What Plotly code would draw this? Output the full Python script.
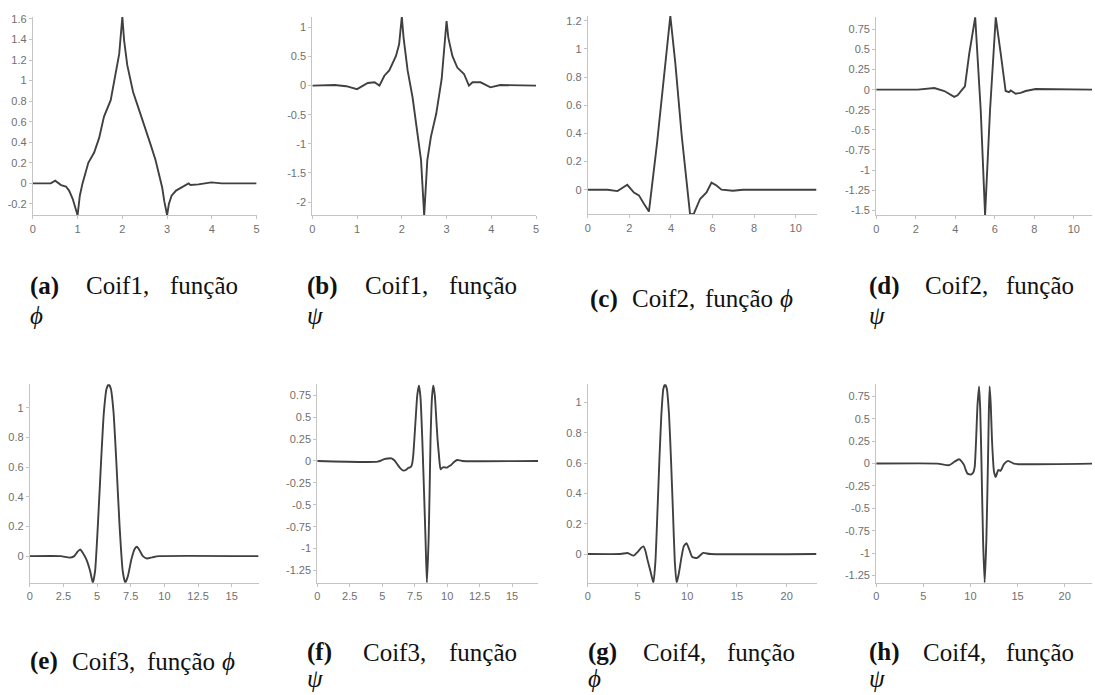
import plotly.graph_objects as go

W, H = 1095, 695

# ---------------- data ----------------
# (a) Coif1 phi
a_x = [0, 0.22, 0.4, 0.5, 0.63, 0.74, 0.81, 0.89, 0.95, 1.0, 1.05, 1.11, 1.24, 1.37, 1.48, 1.59, 1.74, 1.85, 1.93, 2.0,
       2.04, 2.11, 2.24, 2.37, 2.52, 2.63, 2.74, 2.81, 2.89, 2.94, 3.0, 3.04, 3.1, 3.2, 3.33, 3.48, 3.52, 3.7, 3.99, 4.22, 5.0]
a_y = [0, 0, 0.0, 0.026, -0.016, -0.03, -0.07, -0.15, -0.23, -0.31, -0.12, 0.0, 0.2, 0.3, 0.44, 0.65, 0.81, 1.05, 1.26, 1.62,
       1.39, 1.15, 0.89, 0.72, 0.51, 0.38, 0.23, 0.11, -0.04, -0.18, -0.31, -0.2, -0.12, -0.07, -0.04, 0.0, -0.016, -0.01, 0.01, 0, 0]
# (b) Coif1 psi
b_x = [0, 0.5, 0.76, 1.0, 1.24, 1.39, 1.5, 1.61, 1.72, 1.87, 1.94, 2.0, 2.04, 2.13, 2.24, 2.35, 2.43, 2.5, 2.57, 2.65,
       2.77, 2.89, 3.0, 3.04, 3.13, 3.24, 3.39, 3.5, 3.58, 3.76, 3.98, 4.2, 5.0]
b_y = [0, 0.01, -0.01, -0.06, 0.045, 0.057, 0.0, 0.17, 0.26, 0.51, 0.71, 1.18, 0.82, 0.26, -0.2, -0.88, -1.28, -2.23, -1.28, -0.88,
       -0.48, 0.11, 1.11, 0.82, 0.51, 0.31, 0.2, 0.0, 0.057, 0.057, -0.03, 0.01, 0]
# (c) Coif2 phi
c_x = [0, 0.95, 1.43, 1.9, 2.22, 2.46, 2.7, 2.94, 3.33, 3.73, 3.97, 4.21, 4.52, 4.92, 5.1, 5.4, 5.71, 5.95, 6.19, 6.43, 6.98, 7.46, 11]
c_y = [0, 0, -0.01, 0.035, -0.02, -0.04, -0.1, -0.155, 0.33, 0.92, 1.235, 0.9, 0.38, -0.176, -0.17, -0.066, -0.02, 0.05, 0.03, 0, -0.007, 0, 0]
# (d) Coif2 psi
d_x = [0, 2.1, 2.94, 3.45, 3.95, 4.12, 4.32, 4.49, 4.71, 5.01, 5.29, 5.51, 5.76, 6.05, 6.3, 6.55, 6.72, 6.81, 7.06, 7.31, 7.56, 8.07, 11]
d_y = [0, 0, 0.02, -0.017, -0.09, -0.07, -0.01, 0.04, 0.45, 0.9, -0.26, -1.56, -0.26, 0.9, 0.45, -0.017, -0.03, -0.01, -0.05, -0.04, -0.017, 0.008, 0]
# (e) Coif3 phi
e_x = [0, 2.3, 2.95, 3.3, 3.55, 3.74, 3.95, 4.19, 4.48, 4.68, 4.85, 5.05, 5.3, 5.5, 5.7, 5.86, 6.02, 6.22, 6.42, 6.67,
       6.9, 7.09, 7.3, 7.55, 7.8, 7.96, 8.15, 8.4, 8.7, 9.1, 9.6, 17]
e_y = [0, 0, -0.01, 0.0, 0.03, 0.045, 0.02, -0.02, -0.1, -0.18, -0.1, 0.2, 0.65, 0.97, 1.13, 1.16, 1.13, 0.97, 0.65, 0.2,
       -0.1, -0.18, -0.13, -0.02, 0.05, 0.063, 0.04, 0.0, -0.016, -0.008, 0, 0]
# (f) Coif3 psi
f_x = [0, 4.64, 5.15, 5.45, 5.71, 5.95, 6.17, 6.4, 6.63, 6.85, 6.99, 7.12, 7.24, 7.32, 7.4, 7.58, 7.7, 7.83, 7.95, 8.09,
       8.22, 8.34, 8.44, 8.57, 8.65, 8.72, 8.83, 8.93, 9.05, 9.16, 9.26, 9.36, 9.49, 9.6, 9.74, 9.87, 10.0, 10.15, 10.31, 10.55,
       10.77, 11.15, 17]
f_y = [0, -0.008, 0.02, 0.028, 0.03, 0.005, -0.04, -0.085, -0.11, -0.1, -0.08, -0.075, -0.06, -0.02, 0.08, 0.49, 0.75, 0.86, 0.72, 0.23,
       -0.35, -0.91, -1.39, -0.91, -0.35, 0.23, 0.72, 0.86, 0.75, 0.49, 0.25, 0.08, -0.095, -0.08, -0.07, -0.075, -0.076, -0.06, -0.045, -0.01,
       0.011, 0, 0]
# (g) Coif4 phi
g_x = [0, 3.3, 4.0, 4.6, 5.07, 5.35, 5.6, 5.8, 6.0, 6.33, 6.6, 6.8, 7.0, 7.2, 7.4, 7.6, 7.77, 7.95, 8.17, 8.37,
       8.57, 8.75, 8.93, 9.15, 9.4, 9.65, 9.93, 10.2, 10.5, 11.0, 11.6, 12.3, 23]
g_y = [0, 0, 0.007, -0.011, 0.017, 0.04, 0.05, 0.02, -0.037, -0.12, -0.19, -0.05, 0.27, 0.62, 0.92, 1.09, 1.12, 1.09, 0.92, 0.62,
       0.27, -0.05, -0.19, -0.13, -0.03, 0.05, 0.072, 0.03, -0.02, -0.026, 0.007, 0, 0]
# (h) Coif4 psi
h_x = [0, 6.5, 7.75, 8.3, 8.8, 9.1, 9.33, 9.5, 9.68, 9.9, 10.1, 10.3, 10.45, 10.6, 10.75, 10.92, 11.04, 11.16, 11.34, 11.51,
       11.69, 11.87, 11.96, 12.04, 12.16, 12.29, 12.5, 12.68, 12.96, 13.2, 13.56, 14.0, 14.6, 15.1, 23]
h_y = [0, 0, -0.018, 0.02, 0.048, 0.02, -0.018, -0.07, -0.11, -0.12, -0.12, -0.1, -0.04, 0.26, 0.65, 0.86, 0.6, 0.07, -0.85, -1.33,
       -0.85, 0.07, 0.6, 0.86, 0.65, 0.26, -0.09, -0.15, -0.07, -0.08, -0.007, 0.03, 0, -0.007, 0]

# tick values
xt_5 = [0, 1, 2, 3, 4, 5]
xt_11 = [0, 2, 4, 6, 8, 10]
xt_17 = [0, 2.5, 5, 7.5, 10, 12.5, 15]
xt_23 = [0, 5, 10, 15, 20]
yt_a = [-0.2, 0, 0.2, 0.4, 0.6, 0.8, 1, 1.2, 1.4, 1.6]
yt_b = [-2, -1.5, -1, -0.5, 0, 0.5, 1]
yt_c = [0, 0.2, 0.4, 0.6, 0.8, 1, 1.2]
yt_d = [-1.5, -1.25, -1, -0.75, -0.5, -0.25, 0, 0.25, 0.5, 0.75]
yt_e = [0, 0.2, 0.4, 0.6, 0.8, 1]
yt_f = [-1.25, -1, -0.75, -0.5, -0.25, 0, 0.25, 0.5, 0.75]
yt_g = [0, 0.2, 0.4, 0.6, 0.8, 1]
yt_h = [-1.25, -1, -0.75, -0.5, -0.25, 0, 0.25, 0.5, 0.75]

# captions: (panel letter, wavelet, function symbol)
cap_letters = ["a", "b", "c", "d", "e", "f", "g", "h"]
cap_names = ["Coif1,", "Coif1,", "Coif2,", "Coif2,", "Coif3,", "Coif3,", "Coif4,", "Coif4,"]
cap_syms = ["ϕ", "ψ", "ϕ", "ψ", "ϕ", "ψ", "ϕ", "ψ"]
cap_word = "função"

# ---------------- layout geometry (pixels) ----------------
panels = [
    # data x, data y, xrange, yrange, xticks, yticks, box (x0, x1, ytop, ybottom), spline
    (a_x, a_y, [0, 5], [-0.312, 1.62], xt_5, yt_a, (30, 255, 13, 213), False),
    (b_x, b_y, [0, 5], [-2.23, 1.18], xt_5, yt_b, (311, 536, 13, 213), False),
    (c_x, c_y, [0, 11], [-0.176, 1.235], xt_11, yt_c, (588, 818, 12, 212), False),
    (d_x, d_y, [0, 10.92], [-1.565, 0.905], xt_11, yt_d, (878, 1095, 13, 213), False),
    (e_x, e_y, [0, 17], [-0.18, 1.16], xt_17, yt_e, (27, 257, 383, 583), True),
    (f_x, f_y, [0, 17], [-1.39, 0.875], xt_17, yt_f, (316, 538, 383, 583), True),
    (g_x, g_y, [0, 23], [-0.19, 1.12], xt_23, yt_g, (588, 818, 383, 583), True),
    (h_x, h_y, [0, 22.9], [-1.33, 0.885], xt_23, yt_h, (878, 1095, 383, 583), True),
]

# caption word positions (left x of each word), line centers
cap_layout = [
    # (x_label, x_name, x_word, x_sym, y_line1, y_sym)
    (26, 82, 167, 26, 284, 314),
    (305, 363, 447, 305, 284, 314),
    (589, 631, 705, 780, 297, 297),
    (870, 926, 1008, 870, 284, 314),
    (26, 68, 144, 219, 662, 662),
    (305, 361, 447, 305, 653, 679),
    (587, 643, 727, 587, 653, 679),
    (870, 924, 1008, 870, 653, 679),
]


def fmt(v):
    return f"{v:g}"


fig = go.Figure()
tick_font = dict(family="Liberation Sans, Arial, sans-serif", size=11, color="#6f6f6f")
layout_axes = {}
for i, (xs, ys, xr, yr, xt, yt, box, spl) in enumerate(panels):
    n = "" if i == 0 else str(i + 1)
    x0, x1, yt0, yb0 = box
    line = dict(color="#404040", width=1.9)
    if spl:
        line.update(shape="spline", smoothing=0.5)
    fig.add_trace(go.Scatter(x=xs, y=ys, mode="lines", line=line, showlegend=False,
                             xaxis="x" + n, yaxis="y" + n, hoverinfo="skip"))
    common = dict(showline=True, linecolor="#c4c4c4", linewidth=1, ticks="outside", ticklen=3,
                  tickcolor="#c4c4c4", tickwidth=1, tickfont=tick_font, showgrid=False,
                  zeroline=False, fixedrange=True)
    layout_axes["xaxis" + n] = dict(common, domain=[x0 / W, x1 / W], range=xr, anchor="y" + n,
                                     tickmode="array", tickvals=xt, ticktext=[fmt(v) for v in xt])
    layout_axes["yaxis" + n] = dict(common, domain=[1 - yb0 / H, 1 - yt0 / H], range=yr, anchor="x" + n,
                                     tickmode="array", tickvals=yt, ticktext=[fmt(v) for v in yt])

annotations = []
cap_font = dict(family="Liberation Serif, DejaVu Serif, serif", size=25, color="#111111")
for i, (xl, xn, xw, xs_, y1, ys_) in enumerate(cap_layout):
    pieces = [(f"<b>({cap_letters[i]})</b>", xl, y1), (cap_names[i], xn, y1), (cap_word, xw, y1),
              (f"<i>{cap_syms[i]}</i>", xs_, ys_)]
    for txt, px, py in pieces:
        annotations.append(dict(text=txt, x=px / W, y=1 - py / H, xref="paper", yref="paper",
                                xanchor="left", yanchor="middle", showarrow=False, font=cap_font,
                                borderpad=0))

fig.update_layout(width=W, height=H, margin=dict(l=0, r=0, t=0, b=0), paper_bgcolor="white",
                  plot_bgcolor="white", annotations=annotations, **layout_axes)

fig.write_html("out.html")
